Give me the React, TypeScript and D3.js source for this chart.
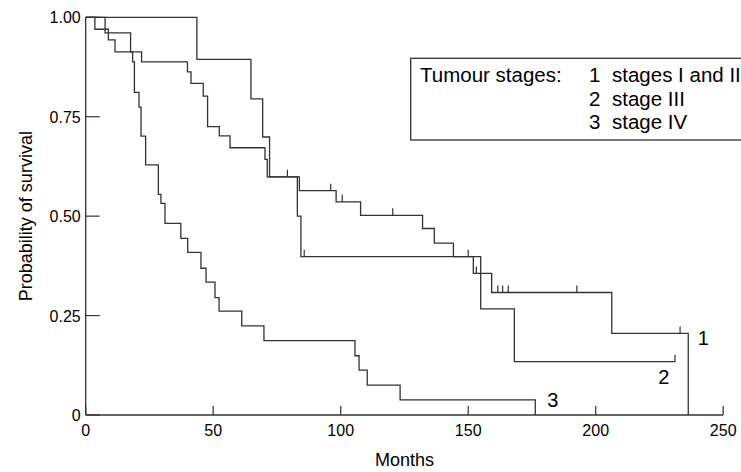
import * as d3 from 'd3';

// Kaplan-Meier steps: [month, survival after the step]
const curve1: [number, number][] = [
  [0, 1], [3.6, 0.97], [8.9, 0.943], [11.5, 0.913], [21.9, 0.888], [39.9, 0.863],
  [41.3, 0.834], [46.1, 0.802], [47.8, 0.725], [52.4, 0.702], [56.6, 0.672],
  [70.3, 0.643], [71.2, 0.599], [83.8, 0.564], [98.2, 0.536], [107.8, 0.502],
  [132.1, 0.469], [136.7, 0.432], [144.2, 0.398], [152, 0.356], [159.2, 0.308],
  [206.3, 0.205], [236.3, 0.205], [236.3, 0],
];
const censor1 = [79.1, 96.1, 100.6, 120.4, 150, 153.2, 161.6, 163.5, 165.7, 192.6, 233.1];

const curve2: [number, number][] = [
  [0, 1], [43.6, 0.894], [64.8, 0.795], [69.4, 0.699], [72.1, 0.599], [83, 0.5],
  [84.4, 0.398], [154.9, 0.267], [168.1, 0.134], [231.1, 0.134],
];
const censor2 = [85.7, 231.1];

const curve3: [number, number][] = [
  [0, 1], [7.6, 0.961], [17.6, 0.913], [18.4, 0.888], [19.1, 0.811], [20.9, 0.774],
  [21.7, 0.701], [23.5, 0.629], [28.5, 0.555], [29.5, 0.532], [31.1, 0.482],
  [37.3, 0.444], [40, 0.409], [45.2, 0.369], [47.2, 0.334], [50.7, 0.295],
  [52.3, 0.261], [61.2, 0.224], [69.9, 0.187], [105.6, 0.149], [107.2, 0.113],
  [110.4, 0.075], [123.3, 0.038], [176.3, 0.038], [176.3, 0],
];

const xTicks = [0, 50, 100, 150, 200, 250];
const yTicks = [0, 0.25, 0.5, 0.75, 1];
const yTickLabels = ['0', '0.25', '0.50', '0.75', '1.00'];
const legendRows = [
  ['1', 'stages I and II'],
  ['2', 'stage III'],
  ['3', 'stage IV'],
];

const W = 741;
const H = 472;
const x = d3.scaleLinear().domain([0, 250]).range([85.7, 723.2]);
const y = d3.scaleLinear().domain([0, 1]).range([415, 17.3]);
const font = '"Liberation Sans", Arial, sans-serif';

const step = d3.line<[number, number]>().x((d) => x(d[0])).y((d) => y(d[1])).curve(d3.curveStepAfter);

// survival value at time t for a censor tick
const at = (c: [number, number][], t: number) => {
  let v = c[0][1];
  for (const d of c) if (d[0] <= t) v = d[1];
  return v;
};

export default function App() {
  const curves = [
    { c: curve1, cens: censor1 },
    { c: curve2, cens: censor2 },
    { c: curve3, cens: [] as number[] },
  ];
  return (
    <svg width={W} height={H} style={{ position: 'absolute', left: 0, top: 0 }} fontFamily={font}>
      {/* axes */}
      <line x1={x(0)} x2={x(0)} y1={y(0)} y2={y(1)} stroke="#333" strokeWidth={1.3} />
      <line x1={x(0)} x2={x(250)} y1={y(0)} y2={y(0)} stroke="#333" strokeWidth={1.3} />
      {yTicks.map((t, i) => (
        <g key={t}>
          <line x1={x(0)} x2={x(0) + 14} y1={y(t)} y2={y(t)} stroke="#333" strokeWidth={1.2} />
          <text x={x(0) - 5} y={y(t) + 6} textAnchor="end" fontSize={16}>{yTickLabels[i]}</text>
        </g>
      ))}
      {xTicks.map((t) => (
        <g key={t}>
          <line x1={x(t)} x2={x(t)} y1={y(0)} y2={y(0) - 9} stroke="#333" strokeWidth={1.2} />
          <text x={x(t)} y={436} textAnchor="middle" fontSize={16}>{t}</text>
        </g>
      ))}
      <text x={(x(0) + x(250)) / 2} y={466} textAnchor="middle" fontSize={18}>Months</text>
      <text transform={`translate(32,${y(0.5)}) rotate(-90)`} textAnchor="middle" fontSize={18}>
        Probability of survival
      </text>

      {curves.map((s, i) => (
        <g key={i}>
          <path d={step(s.c) ?? ''} fill="none" stroke="#333" strokeWidth={1.3} />
          {s.cens.map((t) => (
            <line key={t} x1={x(t)} x2={x(t)} y1={y(at(s.c, t))} y2={y(at(s.c, t)) - 7} stroke="#333" strokeWidth={1.2} />
          ))}
        </g>
      ))}
      <text x={x(240)} y={y(0.205) + 12} fontSize={20}>1</text>
      <text x={x(224.5)} y={y(0.134) + 22} fontSize={20}>2</text>
      <text x={x(181)} y={y(0.038) + 7} fontSize={20}>3</text>

      {/* legend */}
      <rect x={410.7} y={58.3} width={340} height={81.7} fill="white" stroke="#333" strokeWidth={1.3} />
      <text x={420} y={82} fontSize={20.5}>Tumour stages:</text>
      {legendRows.map((r, i) => (
        <g key={r[0]}>
          <text x={589} y={82 + i * 23.5} fontSize={20.5}>{r[0]}</text>
          <text x={612} y={82 + i * 23.5} fontSize={20.5}>{r[1]}</text>
        </g>
      ))}
    </svg>
  );
}
